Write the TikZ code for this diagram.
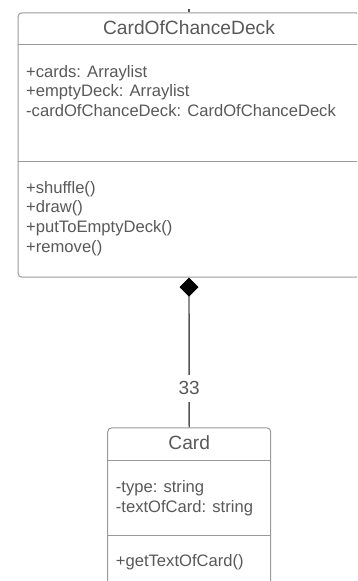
\documentclass[tikz,border=0pt]{standalone}
\usepackage{fontspec}
\setmainfont{Liberation Sans}
\usetikzlibrary{arrows.meta}
\definecolor{umltext}{HTML}{595959}
\definecolor{umlline}{HTML}{9A9A9A}
\definecolor{connline}{HTML}{555555}
\tikzset{
  umlbox/.style={draw=umlline, line width=1pt, rounded corners=4pt, fill=white, inner sep=0pt, anchor=north},
  divider/.style={draw=umlline, line width=1pt},
  titletext/.style={text=umltext, font=\fontsize{19.2}{22}\selectfont, inner sep=0pt, anchor=base},
  membertext/.style={text=umltext, font=\fontsize{16.6}{19.6}\selectfont, inner sep=0pt, anchor=base west},
  conn/.style={draw=connline, line width=1.4pt},
  multlabel/.style={text=umltext, font=\fontsize{19}{22}\selectfont, fill=white, inner xsep=2pt, inner ysep=7pt}
}
\begin{document}
\begin{tikzpicture}[x=1pt, y=-1pt]
\useasboundingbox (0,0) rectangle (357,581);
\clip (0,0) rectangle (357,581);

% CardOfChanceDeck class
\node[umlbox, minimum width=342pt, minimum height=264.4pt] (deck) at (189,12.3) {};
\draw[divider] (deck.west |- 0,44.3) -- (deck.east |- 0,44.3);
\draw[divider] (deck.west |- 0,161.7) -- (deck.east |- 0,161.7);
\node[titletext] (deckname) at (189,34) {CardOfChanceDeck};
\node[membertext] (a1) at (26,77.3) {+cards: Arraylist};
\node[membertext] (a2) at (26,96.8) {+emptyDeck: Arraylist};
\node[membertext] (a3) at (26,116.3) {-cardOfChanceDeck: CardOfChanceDeck};
\node[membertext] (m1) at (26,193) {+shuffle()};
\node[membertext] (m2) at (26,212.8) {+draw()};
\node[membertext] (m3) at (26,232.6) {+putToEmptyDeck()};
\node[membertext] (m4) at (26,252.4) {+remove()};

% Card class
\node[umlbox, minimum width=163pt, minimum height=190pt] (card) at (189.2,427.3) {};
\draw[divider] (card.west |- 0,460.7) -- (card.east |- 0,460.7);
\draw[divider] (card.west |- 0,535.7) -- (card.east |- 0,535.7);
\node[titletext] (cardname) at (189.2,449.3) {Card};
\node[membertext] (c1) at (115.7,492.7) {-type: string};
\node[membertext] (c2) at (115.7,512.5) {-textOfCard: string};
\node[membertext] (c3) at (115.7,566.7) {+getTextOfCard()};

% incoming stub above the deck
\coordinate (stub) at (189,9);
\draw[conn] (stub) -- (deck.north);

% composition: deck holds 33 cards
\draw[conn, {Diamond[length=19pt, width=19pt, fill=black, color=black]}-] (deck.south) -- node[multlabel, pos=0.74] (mult) {33} (card.north);
\end{tikzpicture}
\end{document}
